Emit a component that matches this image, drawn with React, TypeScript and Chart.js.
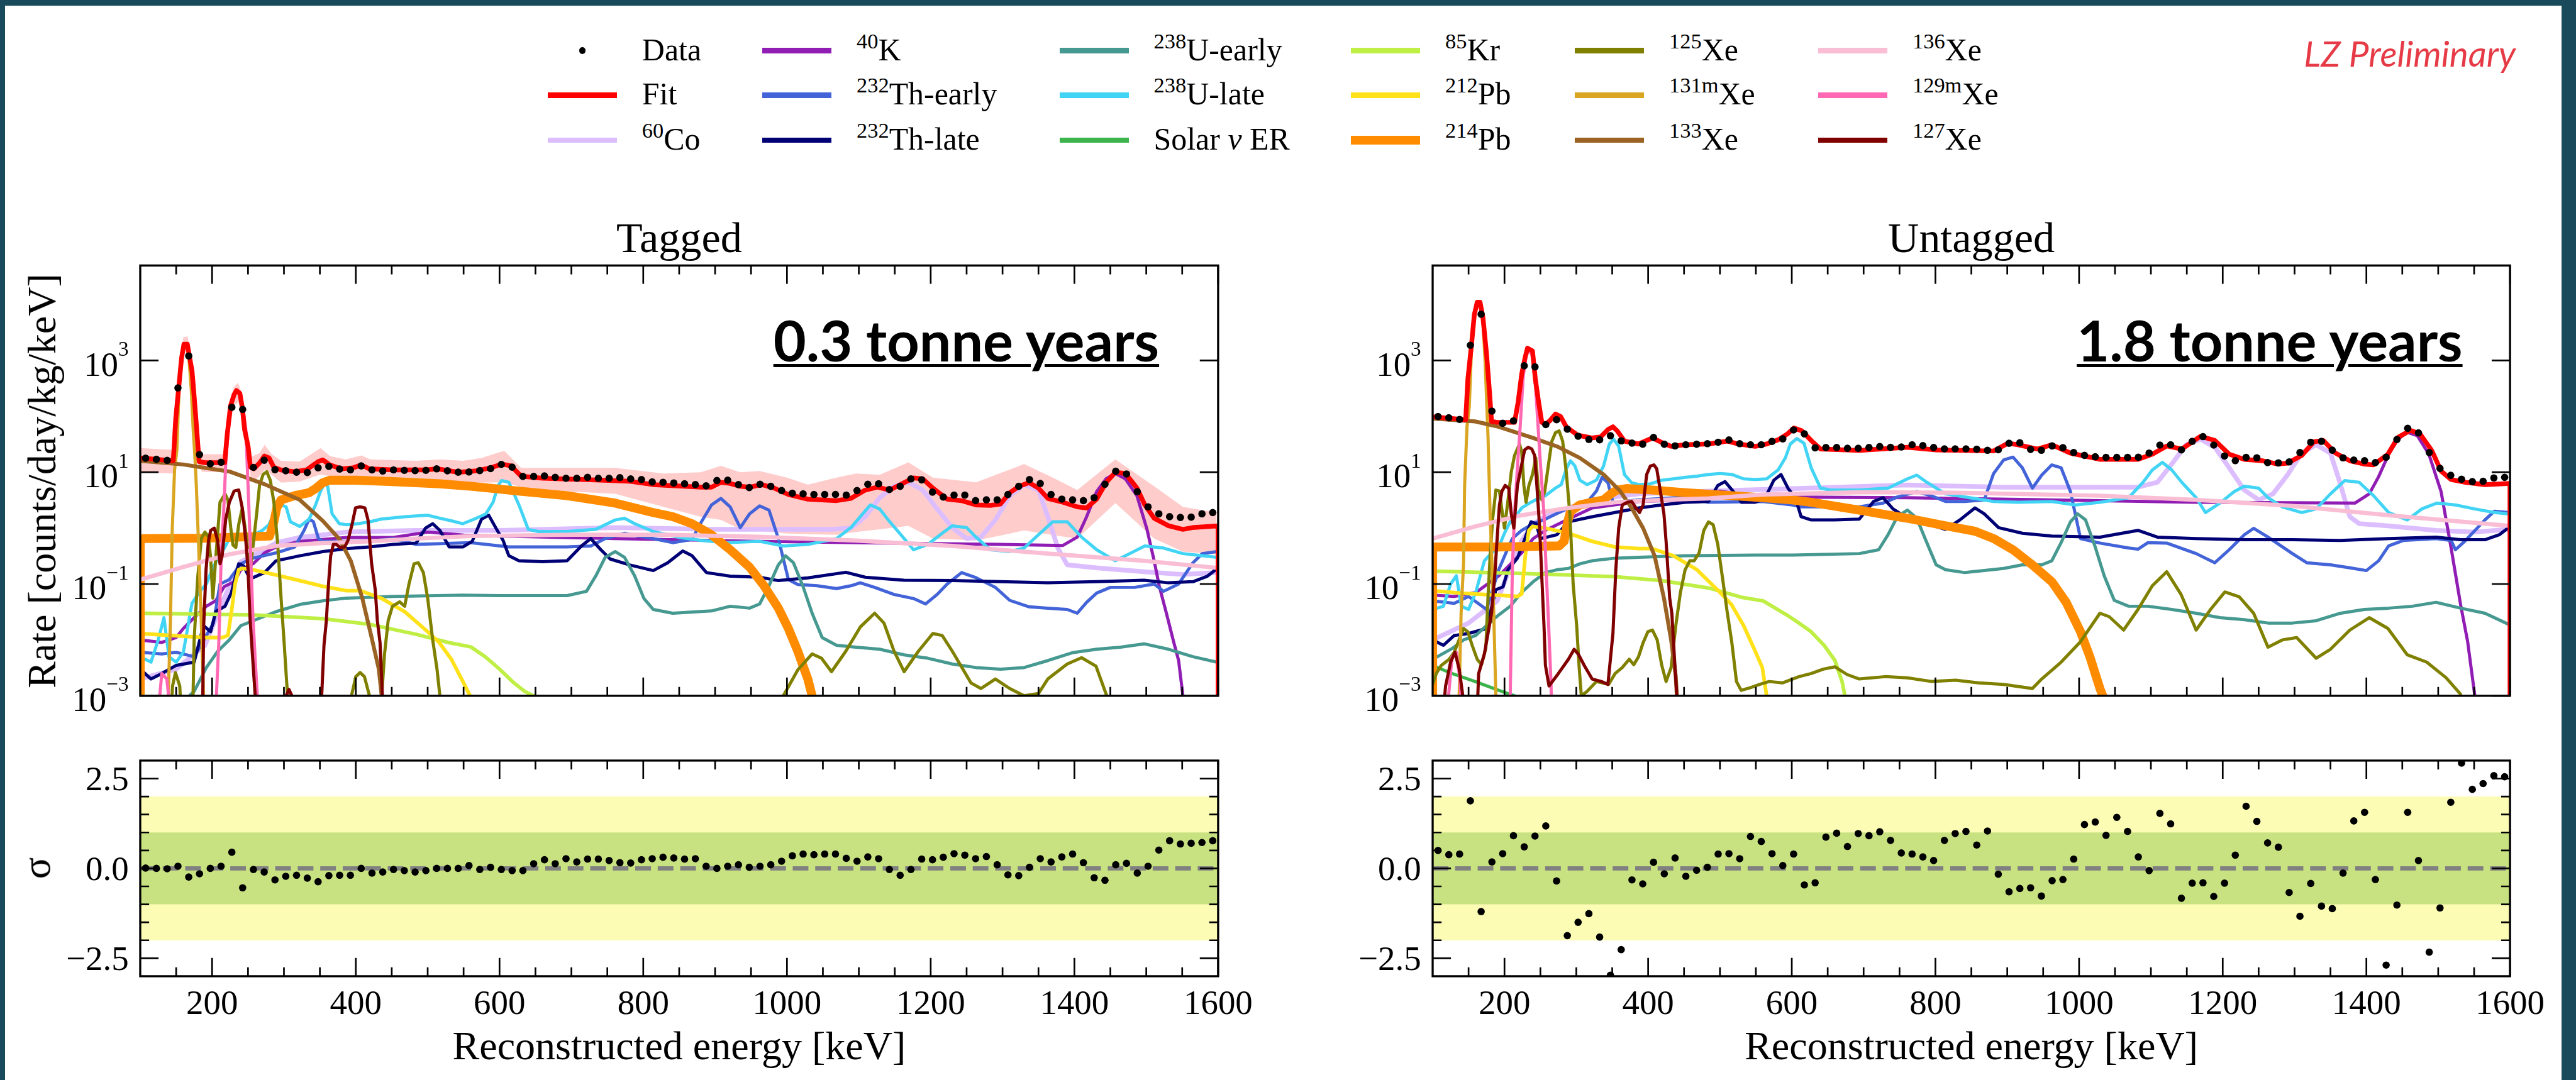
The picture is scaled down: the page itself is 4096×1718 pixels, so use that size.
import React, { useEffect, useRef } from "react";
import { Chart, registerables } from "chart.js";

Chart.register(...registerables);

const S = 0.832;
const PAGE_W = 4096;
const PAGE_H = 1718;
const SERIF = '"Liberation Serif", "Times New Roman", serif';
const SANS = 'Lato, "Open Sans", sans-serif';

type Pair = [number, number];

// ---------------- axes / ticks ----------------
const BIN_LO = 100;
const BIN_WIDTH = 15;
const binCenters: number[] = Array.from({ length: 100 }, (_, i) => BIN_LO + BIN_WIDTH * (i + 0.5));
const energyRange = [100, 1600];
const xMajorTicks = [200, 400, 600, 800, 1000, 1200, 1400, 1600];
const xMinorTicks = [150, 250, 300, 350, 450, 500, 550, 650, 700, 750, 850, 900, 950, 1050, 1100, 1150, 1250, 1300, 1350, 1450, 1500, 1550];
const rateRange = [1e-3, 5e4];
const rateTicks = [1e-3, 1e-1, 1e1, 1e3];
const sigmaRange = [-3, 3];
const sigmaMajorTicks = [-2.5, 0, 2.5];
const sigmaMinorTicks = [-2, -1.5, -1, -0.5, 0.5, 1, 1.5, 2];
const sigmaBand1 = [1, -1];
const sigmaBand2 = [2, -2];

// ---------------- data points ----------------
const tagData = [
  17.8, 17.0, 16.3, 323, 1203, 20.7, 14.1, 15.1, 145, 133,
  12.2, 16.4, 11.1, 10.6, 10.0, 9.9, 12.0, 12.7, 11.4, 11.0,
  13.0, 11.0, 10.5, 11.0, 10.8, 10.7, 10.8, 11.5, 10.6, 10.0,
  10.1, 10.7, 11.6, 13.8, 12.3, 8.4, 8.4, 8.6, 8.1, 7.8,
  7.8, 8.1, 7.8, 7.8, 8.0, 7.6, 7.4, 6.7, 6.6, 6.4,
  6.2, 6.0, 5.7, 7.1, 7.2, 6.0, 5.3, 6.1, 5.6, 4.7,
  4.2, 4.1, 4.0, 4.0, 4.0, 3.9, 4.7, 6.1, 6.2, 4.9,
  5.6, 7.6, 7.3, 4.4, 3.6, 3.9, 3.9, 3.1, 3.2, 3.2,
  4.0, 5.6, 7.4, 6.3, 4.0, 3.3, 3.2, 3.1, 3.5, 6.1,
  10.4, 9.3, 4.5, 2.4, 1.8, 1.6, 1.55, 1.57, 1.8, 1.9,
];
const untagData = [
  99, 94, 88, 1870, 6700, 124, 75, 83, 803, 767,
  71, 87, 59, 44, 38.6, 38, 45, 36.4, 33.2, 31.7,
  41.9, 31.7, 29.6, 31.0, 31.7, 32.4, 34.4, 37.7, 32.4, 31.0,
  31.0, 35.6, 39.5, 57, 48.6, 27.3, 27.7, 27.7, 26.8, 26.8,
  27.7, 28.8, 27.9, 28.3, 31.0, 29.9, 27.7, 26.2, 26.2, 26.2,
  25.8, 24.7, 25.2, 33.0, 33.6, 25.6, 24.7, 29.5, 27.5, 22.5,
  20.0, 18.9, 18.4, 18.4, 18.4, 18.5, 22.0, 30.6, 31.0, 25.1,
  35.7, 43.4, 30.6, 19.5, 16.1, 18.4, 18.1, 14.9, 14.7, 15.3,
  22.5, 34.4, 35.7, 24.8, 18.1, 16.5, 16.1, 14.9, 18.5, 38.5,
  61, 50.6, 22.5, 11.7, 8.8, 7.5, 6.8, 6.9, 7.9, 8.1,
];
const tagResid = [
  0.01, 0.0, -0.01, 0.06, -0.24, -0.15, 0.0, 0.06, 0.45, -0.54,
  -0.03, -0.1, -0.32, -0.22, -0.19, -0.27, -0.37, -0.2, -0.19, -0.19,
  0.0, -0.13, -0.1, -0.03, -0.06, -0.1, -0.06, 0.0, 0.0, 0.0,
  0.08, -0.03, 0.03, -0.03, -0.06, -0.06, 0.13, 0.24, 0.13, 0.27,
  0.18, 0.26, 0.26, 0.22, 0.16, 0.15, 0.24, 0.27, 0.31, 0.29,
  0.26, 0.27, 0.06, 0.0, 0.06, 0.1, 0.03, 0.06, 0.1, 0.2,
  0.35, 0.4, 0.38, 0.4, 0.4, 0.28, 0.2, 0.32, 0.27, -0.03,
  -0.19, -0.03, 0.26, 0.24, 0.31, 0.41, 0.37, 0.27, 0.33, 0.1,
  -0.18, -0.2, 0.03, 0.27, 0.18, 0.32, 0.4, 0.16, -0.26, -0.33,
  0.1, 0.14, -0.13, 0.06, 0.51, 0.77, 0.68, 0.7, 0.72, 0.77,
];
const untagResid = [
  0.5, 0.38, 0.4, 1.88, -1.2, 0.18, 0.41, 0.91, 0.6, 0.9,
  1.18, -0.35, -1.87, -1.5, -1.26, -1.91, -2.97, -2.26, -0.32, -0.43,
  0.17, -0.15, 0.29, -0.22, -0.05, 0.03, 0.4, 0.41, 0.27, 0.89,
  0.75, 0.41, 0.08, 0.4, -0.46, -0.4, 0.87, 0.98, 0.61, 0.97,
  0.91, 1.02, 0.78, 0.43, 0.4, 0.32, 0.22, 0.78, 0.97, 1.03,
  0.65, 1.04, -0.16, -0.65, -0.56, -0.54, -0.77, -0.34, -0.31, 0.26,
  1.22, 1.29, 0.92, 1.42, 1.03, 0.32, -0.06, 1.53, 1.24, -0.83,
  -0.41, -0.4, -0.78, -0.41, 0.37, 1.73, 1.31, 0.71, 0.59, -0.67,
  -1.33, -0.42, -1.05, -1.12, -0.13, 1.32, 1.56, -0.31, -2.69, -1.02,
  1.56, 0.22, -2.33, -1.1, 1.84, 2.93, 2.2, 2.36, 2.58, 2.55,
];

// ---------------- fits ----------------
const tagFit: Pair[] = [[100,18],[146,16],[149.4,91],[154.3,410],[157.5,1100],[160.8,1950],[165.6,1950],[168.9,1100],[172.1,650],[175.4,200],[178.6,58],[181.9,15.5],[190,14.8],[217.6,14.8],[220.9,46],[225.7,155],[230.6,245],[233.9,290],[238.7,257],[242,145],[245.2,58],[250.1,29],[253.4,12.3],[258.2,11.5],[266.3,14.8],[272.8,19.5],[279.3,18],[285.8,12.3],[295.6,11],[315,10.2],[331.3,11],[347.6,15.5],[354.1,16.6],[363.8,13.5],[380,11.5],[396.3,12],[407.7,13.5],[419,11.5],[451.5,11],[497,11],[513.3,11.5],[542.5,10],[565.3,10.5],[588,12],[603,14],[616,13],[630,8.5],[660,7.8],[727,7.3],[781,6.9],[814,6.0],[881,5.4],[895,5.4],[908,6.6],[921,6.3],[935,5.6],[948,5.4],[965,6.0],[982,5.2],[1002,4.0],[1029,3.3],[1069,3.1],[1089,3.4],[1109,4.8],[1126,5.4],[1143,4.8],[1163,6.5],[1176,7.9],[1189,7.6],[1203,5.2],[1223,3.3],[1243,3.1],[1263,2.6],[1283,2.55],[1297,2.7],[1310,4.3],[1323,5.6],[1337,6.5],[1350,5.2],[1363,3.4],[1384,2.9],[1404,2.4],[1417,2.3],[1431,3.3],[1444,6.5],[1457,10],[1471,9.5],[1487,5.2],[1498,2.6],[1511,1.5],[1531,1.1],[1551,0.95],[1564,1.02],[1599.9,1.1],[1600,1e-5]];
const untagFit: Pair[] = [[100,98],[146,87],[149,460],[154,1860],[158,6600],[162,11000],[166,11000],[170,5900],[175,1320],[179,290],[182,81],[190,78],[214,78],[219,180],[224,575],[229,1170],[232,1660],[239,1480],[243,460],[247.5,180],[252,78],[257,72],[263,83],[271,110],[278,100],[286,65],[302,46],[321.6,41],[334,43],[344,58],[351,65],[357,55],[367,36],[386.5,32],[406,41],[419,34],[432,29],[451,31],[484,32],[510,36],[526,32],[549,29],[565,32],[581,38],[594.5,49],[603,62],[614,55],[627,37],[640,26],[694,24.5],[761,28],[801,25],[881,24],[901,33],[915,31],[942,26],[962,31],[988,22],[1029,17],[1082,17],[1102,21],[1122,29.5],[1143,26],[1169,44],[1189,37],[1209,21],[1230,17],[1256,16],[1276,14],[1290,14.5],[1310,20],[1327,35],[1340,37],[1357,22],[1377,16],[1397,14],[1410,13.5],[1430,21],[1444,42],[1461,56],[1474.5,49],[1491,24.5],[1504,10.5],[1518,7.4],[1538,6.6],[1565,6.0],[1599.9,6.3],[1600,1e-5]];

// fit uncertainty band (tagged)
const tagBandE = [100,146,150,155,160,166,170,175,180,186,217,224,230,236,242,248,255,266,273,283,296,322,351,364,386,408,420,484,517,549,575,601,607,630,700,761,828,880,908,935,962,1000,1029,1069,1096,1129,1169,1203,1263,1300,1330,1370,1404,1457,1511,1551,1598];
const tagBandUp = [27,25,140,700,2600,2700,1200,280,40,21,21,120,330,400,250,60,19,22,31,21,16,15.5,27,19.5,17,20,17,16,17,16,18,23,24,12,12,12,9.5,10,13,10,10.5,8,6,8,9.5,9,15,8,6.6,10,14,8,4.8,17,5.6,2.4,1.9];
const tagBandLo = [10,9.5,60,300,1400,1500,600,120,15,10.2,10,55,150,180,120,25,6.5,8.5,11,9,6.5,6.8,9.1,8.5,7.2,7.8,7.2,6.8,6.7,6.5,6.5,6.6,6.6,5.4,4.5,4.1,2.4,1.6,1.4,0.95,0.9,0.8,0.78,0.76,0.85,0.95,1.1,0.65,0.6,0.75,0.91,0.75,0.65,2.8,0.65,0.38,0.34];

// ---------------- components: tagged ----------------
const tagCo60: Pair[] = [[100,2e-3],[150,3e-3],[190,8e-3],[208,0.03],[224,0.09],[240,0.25],[257,0.32],[290,0.55],[322,0.68],[387,0.85],[484,0.91],[601,0.91],[761,1.02],[895,0.95],[1062,0.95],[1089,1.0],[1109,1.6],[1129,3.5],[1149,5.6],[1169,6.6],[1189,4.8],[1209,2.2],[1230,1.02],[1250,0.65],[1270,0.69],[1290,1.4],[1310,3.8],[1330,6.0],[1350,4.8],[1363,1.6],[1377,0.44],[1390,0.22],[1430,0.195],[1497,0.166],[1551,0.148],[1598,0.16]];
const tagK40: Pair[] = [[100,0.01],[130,9e-3],[150,0.011],[160,0.016],[175,0.025],[192,0.04],[205,0.05],[217,0.09],[231,0.11],[240,0.18],[257,0.23],[273,0.36],[289,0.46],[322,0.58],[387,0.68],[452,0.68],[500,0.85],[550,0.75],[601,0.72],[761,0.65],[962,0.58],[1096,0.55],[1297,0.51],[1384,0.49],[1404,0.69],[1417,1.6],[1431,4.5],[1444,7.6],[1457,9.5],[1471,7.6],[1487,3.8],[1501,0.95],[1511,0.26],[1518,0.093],[1528,0.03],[1538,9.3e-3],[1545,4.3e-3],[1551,1e-3],[1556,1e-4]];
const tagTh232e: Pair[] = [[100,6e-3],[130,5.6e-3],[150,6e-3],[175,5e-3],[192,0.012],[202,0.02],[211,0.1],[224,0.12],[240,0.23],[257,0.29],[289,0.36],[315,0.46],[328,0.91],[335,1.45],[341,1.3],[348,0.65],[354,0.58],[420,0.58],[452,0.65],[484,0.51],[560,0.55],[613,0.46],[694,0.46],[727,0.48],[747,0.65],[774,0.81],[794,0.72],[814,0.65],[841,0.55],[868,0.63],[881,1.3],[895,2.6],[908,3.4],[921,2.4],[935,1.02],[948,1.8],[962,2.5],[975,2.1],[988,0.65],[1002,0.12],[1015,0.098],[1042,0.093],[1069,0.083],[1089,0.093],[1102,0.105],[1122,0.087],[1149,0.065],[1176,0.055],[1193,0.044],[1209,0.065],[1223,0.1],[1243,0.16],[1263,0.13],[1290,0.087],[1310,0.051],[1337,0.039],[1363,0.037],[1390,0.035],[1404,0.03],[1417,0.047],[1431,0.069],[1450,0.087],[1484,0.087],[1511,0.1],[1524,0.074],[1545,0.1],[1565,0.24],[1578,0.35],[1598,0.38]];
const tagTh232l: Pair[] = [[100,3e-3],[115,2e-3],[130,2.5e-3],[150,3.5e-3],[175,4e-3],[188,0.018],[198,0.014],[205,0.032],[218,0.04],[227,0.071],[237,0.23],[244,0.21],[250,0.145],[257,0.13],[273,0.16],[289,0.26],[322,0.32],[354,0.38],[387,0.43],[419,0.46],[452,0.51],[484,0.54],[497,1.0],[507,1.2],[517,0.91],[530,0.46],[549,0.46],[562,0.58],[575,1.45],[585,1.7],[595,1.0],[605,0.6],[613,0.32],[627,0.26],[660,0.25],[694,0.26],[714,0.48],[727,0.65],[741,0.41],[754,0.28],[781,0.22],[814,0.174],[834,0.24],[855,0.39],[868,0.32],[888,0.16],[921,0.138],[962,0.132],[988,0.115],[1029,0.129],[1082,0.162],[1109,0.132],[1163,0.117],[1230,0.115],[1297,0.11],[1363,0.105],[1431,0.11],[1497,0.117],[1531,0.105],[1565,0.11],[1585,0.138],[1598,0.186]];
const tagU238e: Pair[] = [[100,2e-4],[150,6e-4],[175,1.2e-3],[192,3.2e-3],[208,6.3e-3],[224,0.01],[240,0.018],[257,0.022],[289,0.032],[322,0.043],[354,0.05],[387,0.056],[452,0.06],[549,0.063],[601,0.062],[694,0.062],[721,0.074],[734,0.14],[747,0.3],[761,0.38],[774,0.3],[788,0.14],[801,0.055],[814,0.035],[841,0.03],[895,0.033],[921,0.04],[948,0.037],[962,0.044],[975,0.093],[988,0.22],[998,0.32],[1009,0.24],[1022,0.093],[1035,0.03],[1049,0.011],[1069,8e-3],[1096,7.4e-3],[1129,6.8e-3],[1163,5.4e-3],[1196,4.7e-3],[1230,3.7e-3],[1263,3.2e-3],[1297,3e-3],[1330,3.2e-3],[1364,4.3e-3],[1397,5.9e-3],[1431,6.8e-3],[1464,7.4e-3],[1497,8.5e-3],[1531,6.8e-3],[1565,5e-3],[1598,4e-3]];
const tagU238l: Pair[] = [[100,5e-3],[115,4e-3],[125,0.01],[133,0.025],[140,5e-3],[150,4e-3],[160,6e-3],[172,0.045],[182,0.071],[192,0.1],[200,0.18],[208,0.29],[218,0.46],[224,0.65],[240,0.7],[257,0.76],[270,0.91],[279,1.15],[286,1.8],[296,2.6],[303,2.4],[309,1.3],[322,1.07],[335,1.45],[344,2.6],[351,4.6],[357,6.5],[361,5.5],[367,1.8],[377,1.2],[387,1.15],[403,1.2],[419,1.29],[435,1.45],[468,1.6],[500,1.7],[517,1.5],[533,1.35],[549,1.2],[565,1.45],[581,1.8],[591,2.9],[598,5.8],[603,7.1],[613,6.6],[627,2.6],[640,0.95],[654,0.87],[694,0.87],[734,0.95],[761,1.4],[774,1.5],[788,1.2],[814,0.87],[848,0.69],[881,0.6],[915,0.55],[962,0.58],[995,0.48],[1029,0.51],[1069,0.65],[1089,1.02],[1102,1.6],[1116,2.6],[1129,2.2],[1143,1.3],[1163,0.65],[1176,0.41],[1196,0.51],[1216,0.81],[1230,1.1],[1250,1.02],[1263,0.69],[1283,0.41],[1310,0.38],[1330,0.44],[1350,0.76],[1370,1.3],[1390,1.3],[1410,0.69],[1431,0.41],[1457,0.26],[1477,0.35],[1498,0.48],[1524,0.44],[1551,0.35],[1578,0.32],[1598,0.3]];
const tagSolar: Pair[] = [[100,6e-4],[1600,2e-4]];
const tagKr85: Pair[] = [[100,0.03],[180,0.029],[257,0.028],[354,0.024],[419,0.019],[484,0.0126],[530,8.9e-3],[560,7.5e-3],[580,5e-3],[600,3e-3],[620,1.7e-3],[635,1.2e-3],[647,1e-3],[652,1e-4]];
const tagPb212: Pair[] = [[100,0.013],[143,0.012],[192,0.011],[214,0.011],[222,0.012],[227,0.032],[232,0.1],[237,0.18],[242,0.19],[257,0.18],[289,0.145],[322,0.115],[354,0.091],[387,0.076],[406,0.076],[435,0.056],[468,0.032],[500,0.014],[516,9e-3],[533,4.5e-3],[549,1.8e-3],[559,1e-3],[565,1e-4]];
const tagPb214: Pair[] = [[100,1e-5],[100,0.65],[190,0.66],[280,0.72],[286,1.3],[290,2.3],[296,3.2],[315,3.8],[335,4.3],[344,5.1],[354,6.5],[364,7.2],[400,7.2],[452,6.8],[517,6.2],[560,5.6],[600,5.0],[627,4.6],[694,3.8],[761,2.8],[814,1.9],[841,1.6],[868,1.2],[895,0.76],[921,0.41],[948,0.2],[968,0.093],[988,0.037],[1002,0.016],[1015,6.3e-3],[1029,2e-3],[1035,1e-3],[1040,1e-4]];
const tagXe125: Pair[] = [[140,1e-4],[145,1.5e-3],[149,2.6e-3],[155,1.5e-3],[160,1e-4],[172,1e-4],[175,0.01],[180,0.13],[185,0.65],[190,0.85],[195,0.7],[198,0.29],[201,0.056],[206,0.41],[211,2.9],[218,4.1],[222,3.2],[226,1.0],[229,0.5],[233,0.45],[237,1.15],[242,2.3],[247,0.8],[253,0.18],[257,0.48],[262,1.8],[266,5.8],[271,9.1],[276,10.2],[281,7.2],[286,2.9],[291,0.58],[296,0.056],[300,0.01],[305,1e-3],[308,1e-4],[390,1e-4],[394,1e-3],[400,2.2e-3],[406,2.6e-3],[412,2.2e-3],[419,1e-3],[423,1e-4],[432,1e-4],[436,1e-3],[440,5.6e-3],[445,0.022],[451,0.04],[461,0.048],[468,0.04],[474,0.1],[481,0.23],[487,0.24],[494,0.16],[500,0.056],[507,0.01],[513,3e-3],[517,1e-3],[520,1e-4],[990,1e-4],[995,1e-3],[1015,2.9e-3],[1035,5.6e-3],[1048,4.7e-3],[1062,2.7e-3],[1082,6.3e-3],[1102,0.017],[1122,0.03],[1135,0.02],[1149,6.3e-3],[1163,2.7e-3],[1183,6.3e-3],[1203,0.013],[1216,0.012],[1230,6.3e-3],[1256,1.7e-3],[1270,1.35e-3],[1290,2e-3],[1310,1.35e-3],[1330,1e-3],[1350,1.1e-3],[1363,2e-3],[1390,3.7e-3],[1410,4.8e-3],[1430,3.4e-3],[1445,1e-3],[1452,1e-4]];
const tagXe131m: Pair[] = [[135,1e-4],[139,1e-3],[142,0.02],[144.5,0.9],[147.8,11],[151,25],[154,300],[158,1300],[161,1900],[165,1900],[168,1000],[171,300],[173.8,55],[176,20],[178,6],[181,0.6],[185,0.02],[188,1.2e-3],[191,1e-4]];
const tagXe133: Pair[] = [[100,16],[159,13.8],[224,10.3],[273,6.1],[322,3.2],[354,1.35],[377,0.64],[393,0.26],[409,0.056],[422,0.011],[432,3e-3],[436,1e-3],[440,1e-4]];
const tagXe136: Pair[] = [[100,0.12],[159,0.2],[224,0.34],[289,0.48],[354,0.54],[419,0.58],[484,0.65],[560,0.72],[700,0.76],[828,0.76],[960,0.7],[1096,0.6],[1230,0.48],[1363,0.35],[1497,0.26],[1598,0.195]];
const tagXe129m: Pair[] = [[120,1e-4],[125,5e-4],[130,2.5e-3],[137,2e-3],[142,5e-4],[146,1e-4],[200,1e-4],[206,1e-3],[209.5,0.01],[212.7,0.32],[216,1.8],[219,14.5],[222.5,58],[227,160],[231,250],[235,280],[239,240],[243,140],[247,58],[250,5.8],[253,0.58],[256.6,0.03],[260,4.4e-3],[263,1e-3],[266,1e-4]];
const tagXe127: Pair[] = [[186,1e-4],[188.4,0.02],[191.6,0.18],[194.9,0.58],[198,0.91],[203,1.0],[208,0.58],[211,0.23],[214,0.32],[219,1.45],[224,2.9],[230.6,4.6],[237,4.8],[242,2.3],[247,0.58],[250,0.18],[253,0.022],[256.6,4.4e-3],[260,1e-3],[263,1e-4],[300,1e-4],[303,1e-3],[307,1.3e-3],[311,1e-3],[314,1e-4],[350,1e-4],[352.5,1e-3],[355.7,8e-3],[359,0.022],[362,0.1],[365,0.32],[368.7,0.51],[373,0.51],[378,0.45],[384.6,0.46],[389,0.6],[394.7,1.15],[399.6,2.3],[406,2.4],[412.6,2.3],[417,1.4],[422,0.23],[427,0.08],[430,0.022],[433.7,9e-3],[437,1e-3],[440,1e-4]];

// ---------------- components: untagged ----------------
const untCo60: Pair[] = [[100,0.01],[150,0.02],[190,0.05],[208,0.2],[224,0.6],[240,1.2],[257,1.6],[290,2.3],[322,3.2],[387,4.1],[484,4.6],[601,5.1],[761,5.9],[895,5.4],[1082,5.4],[1109,6.6],[1129,14],[1149,31],[1169,39],[1189,28],[1209,12],[1230,4.8],[1250,3.2],[1270,4.1],[1290,8.9],[1310,22],[1330,31],[1350,22],[1363,6.6],[1377,1.6],[1390,1.2],[1430,1.1],[1497,0.91],[1551,0.85],[1598,0.95]];
const untK40: Pair[] = [[100,0.063],[130,0.06],[160,0.07],[192,0.14],[224,0.36],[240,0.65],[257,0.91],[289,1.45],[322,2.3],[387,3.0],[452,3.2],[500,4.6],[550,3.6],[601,3.6],[761,3.5],[962,3.2],[1163,2.9],[1384,2.8],[1404,4.1],[1417,8.3],[1431,21],[1444,39],[1457,52],[1471,45],[1487,21],[1504,4.5],[1518,0.44],[1531,0.044],[1541,9.3e-3],[1551,1e-3],[1556,1e-4]];
const untTh232e: Pair[] = [[100,0.05],[130,0.045],[150,0.06],[175,0.035],[192,0.18],[202,0.36],[211,0.65],[224,0.91],[240,1.2],[257,1.45],[289,2.3],[315,2.9],[328,4.6],[336,8.1],[344,6.5],[351,2.9],[387,3.2],[452,3.6],[484,2.9],[560,3.0],[601,2.6],[613,2.4],[694,2.4],[727,2.8],[747,3.6],[774,4.5],[794,3.8],[814,3.0],[841,3.0],[868,3.2],[881,9.5],[895,16.6],[908,18.6],[921,12],[935,5.2],[948,8.9],[962,13.5],[975,12],[988,4.5],[1002,0.65],[1029,0.54],[1069,0.44],[1082,0.42],[1096,0.55],[1122,0.54],[1163,0.35],[1189,0.24],[1209,0.41],[1230,0.76],[1243,0.99],[1263,0.69],[1297,0.35],[1317,0.24],[1350,0.22],[1377,0.195],[1400,0.174],[1417,0.26],[1431,0.48],[1451,0.6],[1497,0.65],[1518,0.6],[1524,0.41],[1538,0.6],[1565,1.4],[1578,2.0],[1598,1.9]];
const untTh232l: Pair[] = [[100,0.01],[115,8e-3],[130,0.012],[150,0.013],[175,0.016],[188,0.079],[198,0.089],[205,0.18],[218,0.29],[227,0.58],[237,1.3],[244,1.2],[250,0.65],[257,0.68],[273,0.76],[289,1.3],[322,1.6],[354,1.9],[387,2.3],[419,2.6],[452,2.9],[484,3.0],[497,5.8],[507,6.8],[517,4.8],[530,2.9],[549,2.9],[562,3.3],[575,7.2],[585,9.1],[595,5.1],[605,3.5],[613,1.6],[627,1.4],[660,1.4],[694,1.45],[714,3.0],[727,3.5],[741,2.2],[761,1.5],[788,1.2],[814,0.95],[834,1.4],[855,2.3],[868,1.8],[888,1.02],[921,0.81],[962,0.72],[1029,0.69],[1082,0.91],[1109,0.69],[1163,0.65],[1230,0.62],[1297,0.62],[1363,0.6],[1431,0.65],[1497,0.69],[1531,0.62],[1565,0.62],[1585,0.76],[1598,1.02]];
const untU238e: Pair[] = [[100,4.5e-3],[127,7e-3],[143,0.01],[160,0.012],[175,0.018],[192,0.028],[208,0.04],[224,0.071],[240,0.11],[257,0.16],[273,0.18],[289,0.19],[305,0.23],[322,0.26],[354,0.29],[387,0.3],[452,0.32],[549,0.33],[601,0.33],[694,0.35],[721,0.41],[734,0.76],[747,1.6],[761,2.1],[774,1.5],[788,0.55],[801,0.22],[814,0.18],[841,0.16],[895,0.19],[921,0.22],[948,0.22],[962,0.26],[975,0.55],[988,1.3],[998,1.8],[1009,1.4],[1022,0.48],[1035,0.14],[1049,0.051],[1069,0.04],[1096,0.04],[1129,0.035],[1163,0.03],[1196,0.025],[1230,0.023],[1263,0.02],[1297,0.02],[1330,0.022],[1364,0.03],[1397,0.035],[1431,0.037],[1464,0.04],[1497,0.047],[1531,0.037],[1565,0.03],[1598,0.019]];
const untU238l: Pair[] = [[100,0.035],[115,0.04],[125,0.1],[133,0.14],[140,0.04],[150,0.035],[160,0.071],[172,0.26],[182,0.36],[192,0.46],[200,0.81],[208,1.3],[218,1.8],[224,2.3],[237,2.9],[247,3.4],[257,3.8],[270,5.1],[279,6.0],[286,11.5],[292,16],[298,13],[305,7.2],[315,6.0],[328,7.2],[338,13],[346,32],[352,39],[359,29],[367,9.1],[377,6.5],[387,6.0],[403,6.2],[419,7.2],[435,7.6],[452,8.1],[468,8.5],[484,9.1],[500,9.5],[517,9.1],[533,7.6],[549,7.4],[565,7.6],[581,11],[591,18],[598,32],[607,40],[617,33],[627,12],[640,5.2],[654,4.8],[694,4.8],[734,5.2],[761,7.6],[774,8.9],[788,6.6],[814,4.1],[848,3.5],[881,3.0],[915,2.9],[962,3.0],[995,2.6],[1029,2.9],[1069,3.5],[1089,6.6],[1102,11],[1116,15],[1129,11],[1143,6.6],[1163,3.5],[1176,1.9],[1196,2.8],[1216,4.5],[1230,5.6],[1250,5.2],[1263,3.5],[1283,2.4],[1310,1.9],[1330,2.2],[1350,4.1],[1370,7.1],[1390,6.6],[1410,3.8],[1431,1.9],[1457,1.4],[1477,2.2],[1498,2.8],[1524,2.6],[1551,2.2],[1578,1.9],[1598,1.8]];
const untSolar: Pair[] = [[100,3.5e-3],[127,2.5e-3],[159,1.8e-3],[192,1.25e-3],[214,1e-3],[250,7e-4],[1600,4e-4]];
const untKr85: Pair[] = [[100,0.17],[180,0.16],[257,0.15],[354,0.135],[419,0.115],[484,0.085],[530,0.058],[560,0.05],[593,0.028],[610,0.02],[627,0.014],[645,8e-3],[660,4.3e-3],[670,1.8e-3],[674,1e-3],[678,1e-4]];
const untPb212: Pair[] = [[100,0.076],[143,0.068],[192,0.063],[218,0.06],[224,0.066],[229,0.32],[234,0.91],[239,1.07],[257,1.0],[289,0.81],[322,0.58],[354,0.46],[387,0.43],[406,0.43],[435,0.32],[468,0.18],[500,0.071],[516,0.043],[533,0.018],[549,6.3e-3],[559,3.2e-3],[565,1e-3],[570,1e-4]];
const untPb214: Pair[] = [[100,1e-5],[100,0.46],[190,0.46],[276,0.48],[283,0.58],[288,1.3],[292,2.0],[305,2.6],[322,2.9],[338,3.2],[348,4.1],[357,4.8],[370,5.1],[406,4.8],[452,4.3],[517,3.8],[560,3.5],[600,3.2],[627,2.9],[694,2.1],[761,1.5],[814,1.1],[855,0.88],[881,0.65],[908,0.41],[935,0.22],[962,0.11],[982,0.047],[1002,0.014],[1015,5e-3],[1029,1.35e-3],[1033,1e-3],[1038,1e-4]];
const untXe125: Pair[] = [[100,1.6e-3],[105,2.5e-3],[112,3.5e-3],[123,4.5e-3],[130,6e-3],[143,0.016],[149,0.014],[155,8e-3],[162,4.5e-3],[168,3.6e-3],[174,7e-3],[177,0.056],[180,0.32],[183.5,1.45],[188,4.8],[193,4.6],[196,2.3],[200,1.0],[205,3.2],[209.5,10.2],[214,20],[221,32],[224,23],[227,5.8],[230,2.9],[234,5.8],[239,9.1],[243.6,18],[247,5.1],[252,3.2],[256,4.5],[261.5,14.5],[266,36],[271,51],[276,55],[281,36],[286,10.2],[291,1.8],[295.6,0.1],[300.5,0.018],[304,3.2e-3],[307,1e-3],[315,1.2e-3],[328,1.8e-3],[345,1.6e-3],[354,2.5e-3],[364,3.2e-3],[373.6,4.5e-3],[380,3.6e-3],[386.6,5e-3],[393,8.9e-3],[399.6,0.014],[406,0.015],[412.6,0.01],[419,3.5e-3],[425,1.8e-3],[432,3.2e-3],[438.5,0.018],[445,0.071],[451.5,0.18],[458,0.26],[464,0.26],[471,0.36],[477.5,0.91],[484,1.29],[490.5,1.15],[497,0.51],[503.5,0.13],[510,0.032],[516.5,9e-3],[523,1.8e-3],[529.5,1.25e-3],[542.5,1.4e-3],[555.5,1.6e-3],[568.5,1.8e-3],[587,1.7e-3],[610,2.2e-3],[627,2.5e-3],[644,3e-3],[660,3.3e-3],[677,2.4e-3],[694,2e-3],[730,2.2e-3],[761,2.1e-3],[795,1.8e-3],[828,1.9e-3],[860,1.7e-3],[895,1.6e-3],[935,1.35e-3],[948,2e-3],[975,4e-3],[1002,9.3e-3],[1029,0.03],[1042,0.026],[1062,0.015],[1082,0.035],[1102,0.093],[1122,0.166],[1142,0.065],[1163,0.015],[1183,0.035],[1203,0.072],[1223,0.059],[1243,0.03],[1263,7.4e-3],[1283,0.01],[1303,0.011],[1330,4.7e-3],[1350,6.8e-3],[1377,0.015],[1404,0.025],[1430,0.016],[1457,5.4e-3],[1484,4e-3],[1511,2.1e-3],[1531,1.07e-3],[1537,1e-4]];
const untXe131m: Pair[] = [[135,1e-4],[139.6,0.03],[143,0.23],[144.5,5.8],[147.8,65],[151,150],[154,1500],[158,6000],[162,10000],[166,9500],[170,5000],[173,1000],[177,46],[180,1.8],[185,0.032],[188,1e-3],[191,1e-4]];
const untXe133: Pair[] = [[100,91],[159,81],[192,65],[240,41],[273,29],[305,18],[338,9.1],[361,4.6],[377,2.3],[393,1.0],[409,0.32],[422,0.056],[432,0.01],[438.5,2.2e-3],[440,1e-3],[444,1e-4]];
const untXe136: Pair[] = [[100,0.65],[159,1.07],[224,1.7],[289,2.3],[354,2.9],[419,3.2],[484,3.4],[560,4.0],[700,4.4],[828,4.3],[1029,3.8],[1163,3.2],[1297,2.5],[1431,1.7],[1598,1.1]];
const untXe129m: Pair[] = [[115,1e-4],[120,5e-4],[127,5e-3],[133,6e-3],[138,2e-3],[143,1e-4],[203,1e-4],[208,1e-3],[211,0.2],[214,1.8],[217.6,10],[222,70],[226,500],[230,1200],[234,1550],[238,1300],[242,600],[245,150],[250,14.5],[255,1.8],[258,0.18],[261.5,0.018],[264.7,1.8e-3],[267,1e-4]];
const untXe127: Pair[] = [[110,1e-4],[118,1.5e-3],[125,4e-3],[131,6e-3],[137,3e-3],[143,8e-4],[150,1e-4],[160,1e-4],[164,2.5e-3],[172,5.6e-3],[182,0.03],[187,0.18],[190,0.72],[193,2.6],[196.5,4.6],[201,5.8],[206,5.1],[209.5,1.8],[213,1.0],[218,5.8],[223,12],[228,25],[233,28],[238,26],[242,20],[245,6],[249,1.0],[252,0.13],[255,0.018],[257,3.5e-3],[262,1.5e-3],[275,2.5e-3],[289,4.5e-3],[297,6.8e-3],[303,5.5e-3],[311,3.5e-3],[322,2e-3],[335,1.8e-3],[344,1.6e-3],[351,0.013],[355,0.18],[359,1.0],[364,2.6],[371,2.9],[377,3.0],[383,2.3],[388,1.9],[393,2.6],[398,9.1],[403,12.9],[408,13.5],[412,11.5],[417,4.6],[422,1.8],[425,0.58],[430,0.056],[433,0.03],[437,4e-3],[440,1e-3],[443,1e-4]];

// ---------------- styles ----------------
const componentStyles = [
  { label: "60Co", color: "#dcbeff", width: 9 },
  { label: "40K", color: "#911eb4", width: 6 },
  { label: "232Th-early", color: "#4363d8", width: 6 },
  { label: "232Th-late", color: "#000075", width: 6 },
  { label: "238U-early", color: "#469990", width: 6 },
  { label: "238U-late", color: "#42d4f4", width: 6 },
  { label: "Solar nu ER", color: "#3cb44b", width: 6 },
  { label: "85Kr", color: "#bfef45", width: 7 },
  { label: "212Pb", color: "#ffe119", width: 7 },
  { label: "214Pb", color: "#ff8c00", width: 17 },
  { label: "125Xe", color: "#808000", width: 6 },
  { label: "131mXe", color: "#daa520", width: 6 },
  { label: "133Xe", color: "#9a6324", width: 7.5 },
  { label: "136Xe", color: "#fabed4", width: 8 },
  { label: "129mXe", color: "#ff69b4", width: 6 },
  { label: "127Xe", color: "#800000", width: 6 },
];
const tagComponents = [tagCo60, tagK40, tagTh232e, tagTh232l, tagU238e, tagU238l, tagSolar, tagKr85, tagPb212, tagPb214, tagXe125, tagXe131m, tagXe133, tagXe136, tagXe129m, tagXe127];
const untComponents = [untCo60, untK40, untTh232e, untTh232l, untU238e, untU238l, untSolar, untKr85, untPb212, untPb214, untXe125, untXe131m, untXe133, untXe136, untXe129m, untXe127];

const legendEntries = [
  { sup: "", main: "Data", color: "#000000", kind: "dot", th: 0 },
  { sup: "", main: "Fit", color: "#ff0000", kind: "line", th: 10.5 },
  { sup: "60", main: "Co", color: "#dcbeff", kind: "line", th: 10.5 },
  { sup: "40", main: "K", color: "#911eb4", kind: "line", th: 10.5 },
  { sup: "232", main: "Th-early", color: "#4363d8", kind: "line", th: 10.5 },
  { sup: "232", main: "Th-late", color: "#000075", kind: "line", th: 10.5 },
  { sup: "238", main: "U-early", color: "#469990", kind: "line", th: 10.5 },
  { sup: "238", main: "U-late", color: "#42d4f4", kind: "line", th: 10.5 },
  { sup: "", main: "Solar \u03bd ER", color: "#3cb44b", kind: "line", th: 10.5 },
  { sup: "85", main: "Kr", color: "#bfef45", kind: "line", th: 10.5 },
  { sup: "212", main: "Pb", color: "#ffe119", kind: "line", th: 10.5 },
  { sup: "214", main: "Pb", color: "#ff8c00", kind: "line", th: 16 },
  { sup: "125", main: "Xe", color: "#808000", kind: "line", th: 10.5 },
  { sup: "131m", main: "Xe", color: "#daa520", kind: "line", th: 10.5 },
  { sup: "133", main: "Xe", color: "#9a6324", kind: "line", th: 10.5 },
  { sup: "136", main: "Xe", color: "#fabed4", kind: "line", th: 10.5 },
  { sup: "129m", main: "Xe", color: "#ff69b4", kind: "line", th: 10.5 },
  { sup: "127", main: "Xe", color: "#800000", kind: "line", th: 10.5 },
];
const legendColX = [1047, 1457, 2025, 2582, 3010, 3475];
const legendRowY = [97, 182, 268];

// ---------------- helpers ----------------
const pts = (a: Pair[]) => a.map(([x, y]) => ({ x, y }));

function lineDs(label: string, data: Pair[], color: string, width: number, order: number) {
  return {
    label,
    data: pts(data),
    borderColor: color,
    backgroundColor: color,
    borderWidth: width * S,
    borderJoinStyle: "round",
    pointRadius: 0,
    fill: false,
    order,
    clip: 0,
  };
}

type FrameCfg = { yMajor: number[]; yMinor: number[]; yLog: boolean; xLabels: boolean };

function framePlugin(cfg: FrameCfg) {
  return {
    id: "frame",
    afterDatasetsDraw(chart: any) {
      const ctx = chart.ctx;
      const a = chart.chartArea;
      const xs = chart.scales.x;
      const ys = chart.scales.y;
      const maj = 35 * S;
      const mnr = 17 * S;
      ctx.save();
      ctx.strokeStyle = "#000";
      ctx.lineWidth = 3.2 * S;
      ctx.beginPath();
      const xt = (v: number, len: number) => {
        const p = xs.getPixelForValue(v);
        ctx.moveTo(p, a.bottom); ctx.lineTo(p, a.bottom - len);
        ctx.moveTo(p, a.top); ctx.lineTo(p, a.top + len);
      };
      const yt = (v: number, len: number) => {
        const p = ys.getPixelForValue(v);
        ctx.moveTo(a.left, p); ctx.lineTo(a.left + len, p);
        ctx.moveTo(a.right, p); ctx.lineTo(a.right - len, p);
      };
      xMajorTicks.forEach((v) => xt(v, maj));
      xMinorTicks.forEach((v) => xt(v, mnr));
      cfg.yMajor.forEach((v) => yt(v, maj));
      cfg.yMinor.forEach((v) => yt(v, mnr));
      ctx.stroke();
      ctx.lineWidth = 4 * S;
      ctx.strokeRect(a.left, a.top, a.right - a.left, a.bottom - a.top);

      ctx.fillStyle = "#000";
      ctx.textBaseline = "alphabetic";
      const fs = 66 * S;
      const fsExp = 40 * S;
      const rx = a.left - 22 * S;
      if (cfg.yLog) {
        cfg.yMajor.forEach((v) => {
          const p = ys.getPixelForValue(v);
          const e = Math.round(Math.log10(v));
          const es = (e < 0 ? "\u2212" : "") + Math.abs(e);
          ctx.textAlign = "right";
          ctx.font = `${fsExp}px ${SERIF}`;
          ctx.fillText(es, rx, p - 9 * S);
          const ew = ctx.measureText(es).width;
          ctx.font = `${fs}px ${SERIF}`;
          ctx.fillText("10", rx - ew, p + 29 * S);
        });
      } else {
        ctx.textAlign = "right";
        ctx.font = `${fs}px ${SERIF}`;
        cfg.yMajor.forEach((v) => {
          const p = ys.getPixelForValue(v);
          const s = (v < 0 ? "\u2212" : "") + Math.abs(v).toFixed(1);
          ctx.fillText(s, rx, p + 22 * S);
        });
      }
      if (cfg.xLabels) {
        ctx.textAlign = "center";
        ctx.font = `${fs}px ${SERIF}`;
        xMajorTicks.forEach((v) => ctx.fillText(String(v), xs.getPixelForValue(v), a.bottom + 72 * S));
      }
      ctx.restore();
    },
  };
}

type Rect = [number, number, number, number];

function geometry(canvas: Rect, plot: Rect) {
  const left = Math.round(canvas[0] * S);
  const top = Math.round(canvas[1] * S);
  const width = Math.round(canvas[2] * S) - left;
  const height = Math.round(canvas[3] * S) - top;
  const padding = {
    left: plot[0] * S - left,
    top: plot[1] * S - top,
    right: left + width - plot[2] * S,
    bottom: top + height - plot[3] * S,
  };
  return { left, top, width, height, padding };
}

function baseOptions(padding: any, yScale: any) {
  return {
    responsive: false,
    maintainAspectRatio: false,
    animation: false,
    events: [],
    layout: { padding },
    plugins: { legend: { display: false }, tooltip: { enabled: false }, title: { display: false } },
    scales: {
      x: { type: "linear", min: energyRange[0], max: energyRange[1], display: false },
      y: yScale,
    },
  };
}

function mainConfig(padding: any, data: number[], fit: Pair[], comps: Pair[][], band: { e: number[]; up: number[]; lo: number[] } | null) {
  const datasets: any[] = [];
  datasets.push({
    label: "Data",
    data: binCenters.map((x, i) => ({ x, y: data[i] })),
    showLine: false,
    pointRadius: 7 * S,
    pointBackgroundColor: "#000",
    pointBorderWidth: 0,
    borderColor: "#000",
    order: 0,
    clip: 0,
  });
  datasets.push(lineDs("Fit", fit, "#ff0000", 9, 1));
  comps.forEach((c, i) => {
    const st = componentStyles[i];
    datasets.push(lineDs(st.label, c, st.color, st.width, 100 - i));
  });
  if (band) {
    datasets.push({
      label: "Fit band upper",
      data: band.e.map((x, i) => ({ x, y: band.up[i] })),
      borderColor: "rgba(0,0,0,0)",
      borderWidth: 0,
      pointRadius: 0,
      fill: "+1",
      backgroundColor: "#ffcccc",
      order: 200,
      clip: 0,
    });
    datasets.push({
      label: "Fit band lower",
      data: band.e.map((x, i) => ({ x, y: band.lo[i] })),
      borderColor: "rgba(0,0,0,0)",
      borderWidth: 0,
      pointRadius: 0,
      fill: false,
      order: 201,
      clip: 0,
    });
  }
  return {
    type: "line",
    data: { datasets },
    options: baseOptions(padding, { type: "logarithmic", min: rateRange[0], max: rateRange[1], display: false }),
    plugins: [framePlugin({ yMajor: rateTicks, yMinor: [], yLog: true, xLabels: false })],
  };
}

function residConfig(padding: any, resid: number[]) {
  const flat = (y: number) => energyRange.map((x) => ({ x, y }));
  const datasets: any[] = [
    {
      label: "Residual",
      data: binCenters.map((x, i) => ({ x, y: resid[i] })),
      showLine: false,
      pointRadius: 7 * S,
      pointBackgroundColor: "#000",
      pointBorderWidth: 0,
      borderColor: "#000",
      order: 0,
      clip: 0,
    },
    {
      label: "zero",
      data: flat(0),
      borderColor: "#808080",
      borderWidth: 8 * S,
      borderDash: [30 * S, 13 * S],
      pointRadius: 0,
      fill: false,
      order: 1,
      clip: 0,
    },
    { label: "1s up", data: flat(sigmaBand1[0]), borderColor: "rgba(0,0,0,0)", borderWidth: 0, pointRadius: 0, fill: "+1", backgroundColor: "#c9e281", order: 2, clip: 0 },
    { label: "1s lo", data: flat(sigmaBand1[1]), borderColor: "rgba(0,0,0,0)", borderWidth: 0, pointRadius: 0, fill: false, order: 3, clip: 0 },
    { label: "2s up", data: flat(sigmaBand2[0]), borderColor: "rgba(0,0,0,0)", borderWidth: 0, pointRadius: 0, fill: "+1", backgroundColor: "#fcfcb4", order: 4, clip: 0 },
    { label: "2s lo", data: flat(sigmaBand2[1]), borderColor: "rgba(0,0,0,0)", borderWidth: 0, pointRadius: 0, fill: false, order: 5, clip: 0 },
  ];
  return {
    type: "line",
    data: { datasets },
    options: baseOptions(padding, { type: "linear", min: sigmaRange[0], max: sigmaRange[1], display: false }),
    plugins: [framePlugin({ yMajor: sigmaMajorTicks, yMinor: sigmaMinorTicks, yLog: false, xLabels: true })],
  };
}

function ChartBox({ canvas, plot, make }: { canvas: Rect; plot: Rect; make: (padding: any) => any }) {
  const ref = useRef<HTMLCanvasElement | null>(null);
  const g = geometry(canvas, plot);
  useEffect(() => {
    if (!ref.current) return;
    const chart = new Chart(ref.current, make(g.padding));
    return () => chart.destroy();
  }, []);
  return (
    <canvas
      ref={ref}
      width={g.width}
      height={g.height}
      style={{ position: "absolute", left: g.left, top: g.top, width: g.width, height: g.height }}
    />
  );
}

function Txt({ x, y, size, children, align = "left", font = SERIF, asc = 0.8375, style = {} }: any) {
  const fs = size * S;
  const tr = align === "center" ? "translateX(-50%)" : align === "right" ? "translateX(-100%)" : "none";
  return (
    <div
      style={{
        position: "absolute",
        left: x * S,
        top: y * S - asc * fs,
        fontSize: fs,
        lineHeight: `${fs}px`,
        fontFamily: font,
        whiteSpace: "nowrap",
        color: "#000",
        transform: tr,
        ...style,
      }}
    >
      {children}
    </div>
  );
}

function RotTxt({ cx, cy, size, children }: any) {
  const fs = size * S;
  return (
    <div style={{ position: "absolute", left: cx * S, top: cy * S, width: 0, height: 0 }}>
      <div
        style={{
          position: "absolute",
          left: 0,
          top: 0,
          transform: "translate(-50%, -50%) rotate(-90deg)",
          fontSize: fs,
          lineHeight: `${fs}px`,
          fontFamily: SERIF,
          whiteSpace: "nowrap",
          color: "#000",
        }}
      >
        {children}
      </div>
    </div>
  );
}

function Legend() {
  const items: any[] = [];
  legendEntries.forEach((e, i) => {
    const col = Math.floor(i / 3);
    const row = i % 3;
    const hx = legendColX[col];
    const cy = legendRowY[row];
    if (e.kind === "dot") {
      items.push(
        <div key={`h${i}`} style={{ position: "absolute", left: (hx + 66 - 6.5) * S, top: (cy - 6.5) * S, width: 13 * S, height: 13 * S, borderRadius: "50%", background: e.color }} />
      );
    } else {
      items.push(
        <div key={`h${i}`} style={{ position: "absolute", left: hx * S, top: (cy - e.th / 2) * S, width: 132 * S, height: e.th * S, background: e.color }} />
      );
    }
    const isSolar = e.main.startsWith("Solar");
    items.push(
      <Txt key={`t${i}`} x={hx + 180} y={cy + 19} size={60}>
        {e.sup ? (
          <span style={{ fontSize: "0.69em", position: "relative", top: "-0.55em", lineHeight: 0 }}>{e.sup}</span>
        ) : null}
        {isSolar ? (
          <>
            Solar <i>{"\u03bd"}</i> ER
          </>
        ) : (
          e.main
        )}
      </Txt>
    );
  });
  return <>{items}</>;
}

const BORDER = "#184a5b";

export default function App() {
  useEffect(() => {
    document.body.style.margin = "0";
  }, []);
  const mainTop = 507.6;
  const mainBot = 1330.3;
  const resTop = 1454.2;
  const resBot = 1866.5;
  const lx0 = 268, lx1 = 2328, rx0 = 2738, rx1 = 4797;
  return (
    <div style={{ position: "fixed", left: 0, top: 0, width: PAGE_W, height: PAGE_H, background: "#fff", overflow: "hidden" }}>
      <ChartBox canvas={[14, 380, 2500, 1400]} plot={[lx0, mainTop, lx1, mainBot]} make={(p) => mainConfig(p, tagData, tagFit, tagComponents, { e: tagBandE, up: tagBandUp, lo: tagBandLo })} />
      <ChartBox canvas={[14, 1400, 2500, 2064]} plot={[lx0, resTop, lx1, resBot]} make={(p) => residConfig(p, tagResid)} />
      <ChartBox canvas={[2500, 380, 4890, 1400]} plot={[rx0, mainTop, rx1, mainBot]} make={(p) => mainConfig(p, untagData, untagFit, untComponents, null)} />
      <ChartBox canvas={[2500, 1400, 4890, 2064]} plot={[rx0, resTop, rx1, resBot]} make={(p) => residConfig(p, untagResid)} />

      <Legend />
      <Txt x={4403} y={128} size={68} font={SANS} asc={0.887} style={{ color: "#e63b46", fontStyle: "italic" }}>
        LZ Preliminary
      </Txt>

      <Txt x={(lx0 + lx1) / 2} y={482} size={82} align="center">Tagged</Txt>
      <Txt x={(rx0 + rx1) / 2} y={482} size={82} align="center">Untagged</Txt>

      <Txt x={1478} y={692} size={108} font={SANS} asc={0.887} style={{ fontWeight: 700, textDecoration: "underline", textDecorationThickness: `${6 * S}px`, textUnderlineOffset: `${5 * S}px` }}>
        0.3 tonne years
      </Txt>
      <Txt x={3969} y={692} size={108} font={SANS} asc={0.887} style={{ fontWeight: 700, textDecoration: "underline", textDecorationThickness: `${6 * S}px`, textUnderlineOffset: `${5 * S}px` }}>
        1.8 tonne years
      </Txt>

      <RotTxt cx={80} cy={(mainTop + mainBot) / 2} size={77}>Rate [counts/day/kg/keV]</RotTxt>
      <RotTxt cx={70} cy={(resTop + resBot) / 2} size={77}>{"\u03c3"}</RotTxt>

      <Txt x={(lx0 + lx1) / 2} y={2026} size={77} align="center">Reconstructed energy [keV]</Txt>
      <Txt x={(rx0 + rx1) / 2} y={2026} size={77} align="center">Reconstructed energy [keV]</Txt>

      <div style={{ position: "absolute", left: 0, top: 0, width: PAGE_W, height: 11 * S, background: BORDER }} />
      <div style={{ position: "absolute", left: 0, top: 0, width: 10 * S, height: PAGE_H, background: BORDER }} />
      <div style={{ position: "absolute", left: 4896 * S, top: 0, width: PAGE_W - 4896 * S, height: PAGE_H, background: BORDER }} />
    </div>
  );
}
